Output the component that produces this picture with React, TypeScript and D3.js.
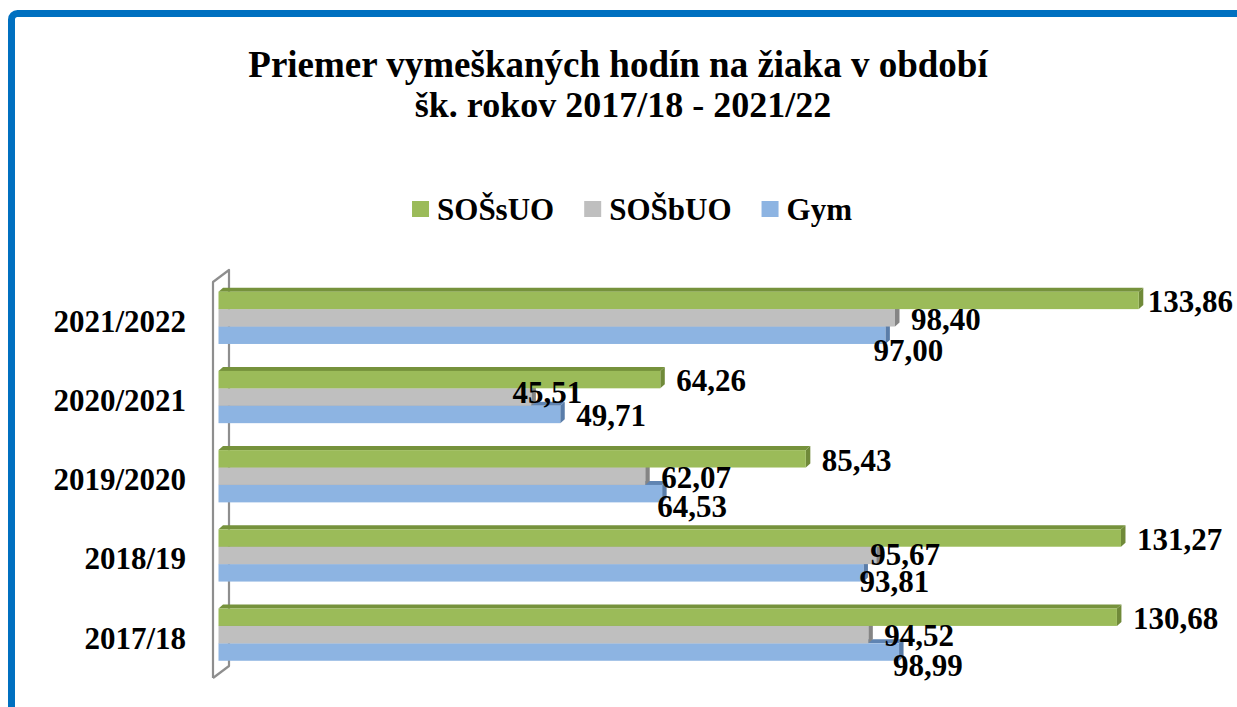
import * as d3 from 'd3'
import { useEffect, useRef } from 'react'

// categories top to bottom, as in the chart
const categories = ['2021/2022', '2020/2021', '2019/2020', '2018/19', '2017/18']
const seriesNames = ['SOŠsUO', 'SOŠbUO', 'Gym']
const sosSuo = [133.86, 64.26, 85.43, 131.27, 130.68]
const sosBuo = [98.40, 45.51, 62.07, 95.67, 94.52]
const gym = [97.00, 49.71, 64.53, 93.81, 98.99]

const seriesValues = [sosSuo, sosBuo, gym]
const colors = ['#9BBB59', '#BFBFBF', '#8DB4E2']
const darkColors = ['#76923C', '#8C8C8C', '#5F84B2']

// some labels were dragged by hand in the original, [dx, dy] from default spot
const labelNudge = [
  [[-7, 0], [0, 0], [0, 0], [0, 0], [0, 0]],
  [[0, 0], [-35, -6], [0, 0], [-22, -2], [0, 0]],
  [[-28, 14], [0, 0], [-21, 12], [-20, 7], [-22, 12]],
]

const WIDTH = 1237
const HEIGHT = 707
const FONT = '"Liberation Serif", "Times New Roman", serif'
const WALL = { x: 213, top: 282, bottom: 678, dx: 16, dy: -12 }
const DEPTH = { dx: 4.5, dy: -4 }

const fmt = (v: number) => v.toFixed(2).replace('.', ',')

const drawChart = (node: SVGSVGElement) => {
  const svg = d3.select(node)
  svg.selectAll('*').remove()

  svg.append('rect')
    .attr('x', 11.5)
    .attr('y', 13.5)
    .attr('width', WIDTH + 100)
    .attr('height', HEIGHT + 100)
    .attr('rx', 6)
    .attr('fill', 'white')
    .attr('stroke', '#0070C0')
    .attr('stroke-width', 7)

  // title
  const title = svg.append('text')
    .attr('text-anchor', 'middle')
    .style('font-family', FONT)
    .style('font-weight', 'bold')
  title.append('tspan').attr('x', 618).attr('y', 77).style('font-size', '37px')
    .text('Priemer vymeškaných hodín na žiaka v období')
  title.append('tspan').attr('x', 623).attr('y', 117).style('font-size', '36px')
    .text('šk. rokov 2017/18 - 2021/22')

  // legend
  const legend = svg.append('g')
  let lx = 0
  seriesNames.forEach((name, i) => {
    legend.append('rect')
      .attr('x', lx)
      .attr('y', 201)
      .attr('width', 17)
      .attr('height', 16)
      .attr('fill', colors[i])
    const t = legend.append('text')
      .attr('x', lx + 25)
      .attr('y', 220)
      .style('font-family', FONT)
      .style('font-weight', 'bold')
      .style('font-size', '31px')
      .text(name)
    lx += 25 + (t.node() as SVGTextElement).getComputedTextLength() + 30
  })
  const legendWidth = lx - 30
  legend.attr('transform', `translate(${632 - legendWidth / 2}, 0)`)

  const x = d3.scaleLinear().domain([0, 140]).range([218.5, 218.5 + 140 * 6.875])

  const y = d3.scaleBand()
    .domain(categories)
    .range([WALL.top, WALL.bottom])
    .paddingInner(0.34)
    .paddingOuter(0.17)
    .align(0.36)

  const ySeries = d3.scaleBand()
    .domain(seriesNames)
    .range([0, y.bandwidth()])

  // side wall of the 3D plot
  const wall = d3.path()
  wall.moveTo(WALL.x, WALL.bottom)
  wall.lineTo(WALL.x, WALL.top)
  wall.lineTo(WALL.x + WALL.dx, WALL.top + WALL.dy)
  wall.lineTo(WALL.x + WALL.dx, WALL.bottom + WALL.dy)
  wall.lineTo(WALL.x, WALL.bottom)
  svg.append('path')
    .attr('d', wall.toString())
    .attr('fill', 'none')
    .attr('stroke', '#8E8E8E')
    .attr('stroke-width', 2.2)
    .attr('stroke-linejoin', 'round')

  // bars, bottom series first so the upper ones sit in front
  const gBars = svg.append('g')
  categories.forEach((cat, ci) => {
    for (let si = seriesNames.length - 1; si >= 0; si--) {
      const v = seriesValues[si][ci]
      const x0 = x(0)
      const x1 = x(v)
      const top = (y(cat) as number) + (ySeries(seriesNames[si]) as number)
      const bottom = top + ySeries.bandwidth()
      const { dx, dy } = DEPTH

      gBars.append('polygon')
        .attr('points', [[x0, top], [x0 + dx, top + dy], [x1 + dx, top + dy], [x1, top]].join(' '))
        .attr('fill', darkColors[si])
      gBars.append('polygon')
        .attr('points', [[x1, top], [x1 + dx, top + dy], [x1 + dx, bottom + dy], [x1, bottom]].join(' '))
        .attr('fill', d3.color(darkColors[si])!.darker(0.15).toString())
      gBars.append('rect')
        .attr('x', x0)
        .attr('y', top)
        .attr('width', x1 - x0)
        .attr('height', bottom - top)
        .attr('fill', colors[si])
    }
  })

  // value labels
  const gLabels = svg.append('g')
    .style('font-family', FONT)
    .style('font-weight', 'bold')
    .style('font-size', '31px')
    .attr('fill', '#000')
  categories.forEach((cat, ci) => {
    seriesNames.forEach((name, si) => {
      const v = seriesValues[si][ci]
      const top = (y(cat) as number) + (ySeries(name) as number)
      const [ndx, ndy] = labelNudge[si][ci]
      gLabels.append('text')
        .attr('x', x(v) + 16 + ndx)
        .attr('y', top + 20.5 + ndy)
        .text(fmt(v))
    })
  })

  // category labels
  svg.append('g')
    .selectAll('text')
    .data(categories)
    .enter()
    .append('text')
    .attr('x', 186)
    .attr('y', (d) => (y(d) as number) + y.bandwidth() / 2 + 14)
    .attr('text-anchor', 'end')
    .style('font-family', FONT)
    .style('font-weight', 'bold')
    .style('font-size', '31px')
    .text((d) => d)
}

export default function App() {
  const ref = useRef<SVGSVGElement>(null)

  useEffect(() => {
    if (ref.current) drawChart(ref.current)
  }, [])

  return <svg
    ref={ref}
    width={WIDTH}
    height={HEIGHT}
    style={{ position: 'absolute', left: 0, top: 0, display: 'block', background: 'white' }}
  />
}
